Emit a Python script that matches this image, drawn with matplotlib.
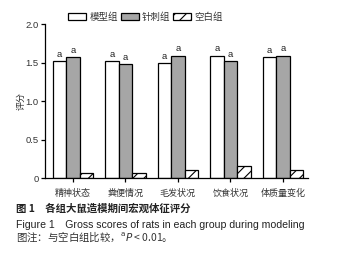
#!/usr/bin/env python3

import numpy as np
from matplotlib import pyplot as plt

plt.rcParams['font.family'] = ['Noto Sans CJK SC', 'DejaVu Sans']
plt.rcParams['hatch.linewidth'] = 0.8

categories = ['精神状态', '粪便情况', '毛发状况', '饮食状况', '体质量变化']
groups = ['模型组', '针刺组', '空白组']
model = [1.52, 1.52, 1.49, 1.59, 1.57]
acup = [1.57, 1.48, 1.59, 1.52, 1.59]
blank = [0.07, 0.07, 0.10, 0.155, 0.10]

LAT = ['Liberation Sans', 'Noto Sans CJK SC']


def main():
    fig = plt.figure(figsize=(3.4, 2.59), dpi=100)
    ax = fig.add_axes([0.132, 0.3127, 0.774, 0.5943])
    x = np.arange(len(categories))
    w = 0.257
    b1 = ax.bar(x - w, model, w, color='white', edgecolor='black', lw=0.9, label=groups[0])
    b2 = ax.bar(x, acup, w, color='#a6a6a6', edgecolor='black', lw=0.9, label=groups[1])
    b3 = ax.bar(x + w, blank, w, color='white', edgecolor='black', lw=0.9,
                hatch='///', label=groups[2])
    for bars in (b1, b2):
        for r in bars:
            ax.text(r.get_x() + r.get_width() / 2, r.get_height() + 0.03, 'a',
                    ha='center', va='bottom', fontsize=6.8, color='#222222', family=LAT)

    ax.set_xlim(-0.533, 4.48)
    ax.set_ylim(0, 2.0)
    ax.set_yticks([0, 0.5, 1.0, 1.5, 2.0])
    ax.set_yticklabels(['0', '0.5', '1.0', '1.5', '2.0'], family=LAT)
    ax.set_xticks(x)
    ax.set_xticklabels(categories)
    ax.tick_params(axis='y', labelsize=6.8, length=3, width=0.9, pad=1.5, labelcolor='#333333')
    ax.tick_params(axis='x', labelsize=6.5, length=3, width=0.9, pad=5, labelcolor='#333333')
    for s in ('top', 'right'):
        ax.spines[s].set_visible(False)
    for s in ('left', 'bottom'):
        ax.spines[s].set_linewidth(0.9)
    ax.set_ylabel('评分', fontsize=6.5, color='#333333', labelpad=0)

    fig.legend(handles=[b1, b2, b3], loc='center', bbox_to_anchor=(0.428, 0.934), ncol=3,
               frameon=False, fontsize=6.8, handlelength=1.9, handleheight=0.9,
               handletextpad=0.35, columnspacing=0.3, labelcolor='#333333')

    fig.text(0.047, 0.193, '图 1　各组大鼠造模期间宏观体征评分', fontsize=7.5,
             fontweight='bold', color='#222222', va='center')
    fig.text(0.047, 0.131, 'Figure 1　Gross scores of rats in each group during modeling',
             fontsize=7.6, color='#222222', va='center', family=LAT)
    fig.text(0.047, 0.085, '图注：与空白组比较，$^{\\mathrm{a}}$$\\it{P}$ < 0.01。', fontsize=7.5,
             color='#333333', va='center')

    fig.savefig('out.png', dpi=100)


if __name__ == '__main__':
    main()
